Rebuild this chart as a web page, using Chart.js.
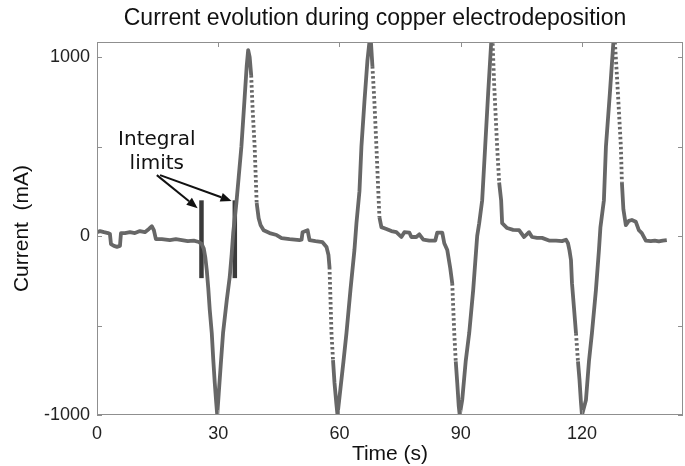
<!DOCTYPE html>
<html>
<head>
<meta charset="utf-8">
<script src="https://cdn.jsdelivr.net/npm/chart.js@4.4.1/dist/chart.umd.min.js"></script>
<style>
  html, body { margin: 0; padding: 0; background: #fff; }
</style>
</head>
<body>
<canvas id="chart-current" width="685" height="466"></canvas>
<script>
// Current evolution during copper electrodeposition
var timeS = [
  0.00, 0.74, 1.73, 2.72, 3.20, 3.46, 4.20, 4.94, 5.68, 5.93, 6.91, 8.15, 9.38, 10.62, 11.85,
  12.84, 13.58, 14.07, 14.57, 16.05, 18.02, 19.51, 20.99, 22.47, 23.95, 25.19, 25.93, 26.42,
  26.79, 27.16, 27.53, 27.90, 28.40, 28.77, 29.14, 29.46, 29.75,
  30.12, 30.62, 31.19, 32.10, 32.84, 33.33, 33.70, 34.49, 35.06, 35.73, 36.54, 37.04, 37.41,
  37.78, 38.15, 38.52, 39.01, 39.51, 40.00, 40.49, 41.23, 42.72, 44.44, 45.68, 47.65, 50.12,
  50.62, 50.86, 52.10, 52.59, 54.07, 55.80, 56.79, 57.28, 57.53, 57.78, 58.02, 58.40, 58.77,
  59.26, 59.51,
  60.25, 60.99, 61.73, 62.72, 63.70, 64.20, 64.94, 65.43, 66.17, 66.91, 67.41,
  67.78, 68.15, 68.64, 69.14, 69.51, 69.88, 70.37, 71.60, 72.84, 74.07, 75.31, 76.05, 77.28,
  77.78, 79.01, 79.75, 80.74, 82.22, 83.70, 84.20, 85.43, 85.93, 86.67, 87.41, 87.90, 88.40,
  88.77, 89.14, 89.51, 89.75,
  90.37, 91.23, 92.10, 93.09, 94.07, 94.57, 95.31, 96.05, 96.79, 97.53,
  97.90, 98.27, 99.01, 99.51, 100.00, 100.25, 101.48, 102.96, 104.44, 105.68, 106.91, 107.65,
  108.89, 110.12, 111.85, 113.58, 115.06, 116.05, 116.54, 116.91, 117.28, 117.53, 118.02,
  118.52, 119.01, 119.38, 119.75, 120.00,
  120.99, 121.73, 122.47, 123.46, 124.20, 124.57, 125.43, 125.93, 126.91, 127.78,
  128.15, 128.64, 129.14, 129.63, 129.88, 130.25, 130.86, 131.60, 132.35, 133.33, 134.07,
  134.81, 135.80, 137.04, 138.02, 139.01, 140.00, 140.99
];
var currentMA = [
  22, 28, 22, 17, 12, -45, -55, -60, -55, 17, 17, 22, 17, 28, 22,
  40, 55, 33, -17, -17, -22, -17, -22, -28, -25, -33, -45, -70,
  -117, -190, -290, -413, -542, -690, -821, -920, -1000,
  -880, -720, -542, -360, -229, -100, 17, 185, 330, 500, 777, 950, 1040,
  1000, 900, 704, 500, 185, 100, 61, 33, 17, 6, -11, -17, -22,
  -20, 22, 33, -22, -28, -34, -61, -106, -173, -358, -542, -693, -821,
  -944, -1000,
  -850, -700, -542, -300, -78, 72, 250, 500, 750, 980, 1085,
  1085, 950, 750, 500, 300, 106, 50, 40, 28, 22, -5, 22, 20,
  -5, -5, 10, -20, -25, -25, 20, 20, -40, -78, -180, -263, -542,
  -700, -821, -950, -1000,
  -916, -700, -542, -300, 0, 72, 201, 500, 800, 1078,
  1078, 850, 500, 300, 200, 72, 45, 35, 33, -5, 22, -5,
  -10, -10, -25, -25, -28, -20, -40, -80, -134, -263, -400,
  -542, -700, -800, -930, -1000,
  -916, -700, -542, -300, -78, 50, 201, 500, 800, 1085,
  1085, 900, 700, 500, 300, 150, 61, 85, 90, 80, 33,
  17, -25, -28, -25, -30, -25, -22
];

var xTicks = [0, 30, 60, 90, 120];
var yTicks = [-1000, -500, 0, 500, 1000];
var yLabelled = [-1000, 0, 1000];

// the two "Integral limits" markers
var limitTimes = [25.85, 34.1];
var limitRange = [-235, 200];

var traceColor = '#676767';
var frameColor = '#8f8f8f';
var fontFamily = '"Liberation Sans", Arial, Helvetica, sans-serif';

var tracePoints = timeS.map(function(t, i) { return { x: t, y: currentMA[i] }; });

function limitDataset(t) {
  return {
    data: [{ x: t, y: limitRange[0] }, { x: t, y: limitRange[1] }],
    showLine: true,
    borderColor: '#3a3a3a',
    borderWidth: 4.5,
    borderCapStyle: 'butt',
    pointRadius: 0
  };
}

// box around the plot with matlab-like inward ticks
var framePlugin = {
  id: 'frame',
  afterDraw: function(chart) {
    var ctx = chart.ctx, a = chart.chartArea;
    var xs = chart.scales.x, ys = chart.scales.y;
    ctx.save();
    ctx.strokeStyle = frameColor;
    ctx.lineWidth = 1;
    ctx.strokeRect(a.left + 0.5, a.top + 0.5, a.right - a.left - 1, a.bottom - a.top - 1);
    ctx.beginPath();
    xTicks.forEach(function(v) {
      var px = Math.round(xs.getPixelForValue(v)) + 0.5;
      ctx.moveTo(px, a.bottom); ctx.lineTo(px, a.bottom - 5);
      ctx.moveTo(px, a.top); ctx.lineTo(px, a.top + 5);
    });
    yTicks.forEach(function(v) {
      var py = Math.round(ys.getPixelForValue(v)) + 0.5;
      ctx.moveTo(a.left, py); ctx.lineTo(a.left + 5, py);
      ctx.moveTo(a.right, py); ctx.lineTo(a.right - 5, py);
    });
    ctx.stroke();

    ctx.fillStyle = '#111';
    ctx.font = '23px ' + fontFamily;
    ctx.textAlign = 'center';
    ctx.textBaseline = 'alphabetic';
    ctx.fillText('Current evolution during copper electrodeposition', 375, 25);
    ctx.restore();
  }
};

function drawArrow(ctx, x1, y1, x2, y2) {
  var ang = Math.atan2(y2 - y1, x2 - x1);
  var len = 11, half = 4.5;
  var bx = x2 - len * Math.cos(ang), by = y2 - len * Math.sin(ang);
  ctx.beginPath();
  ctx.moveTo(x1, y1);
  ctx.lineTo(bx, by);
  ctx.stroke();
  ctx.beginPath();
  ctx.moveTo(x2, y2);
  ctx.lineTo(bx + half * Math.sin(ang), by - half * Math.cos(ang));
  ctx.lineTo(bx - half * Math.sin(ang), by + half * Math.cos(ang));
  ctx.closePath();
  ctx.fill();
}

var labelPlugin = {
  id: 'integralLabel',
  afterDatasetsDraw: function(chart) {
    var ctx = chart.ctx, xs = chart.scales.x, ys = chart.scales.y;
    function X(v) { return xs.getPixelForValue(v); }
    function Y(v) { return ys.getPixelForValue(v); }
    ctx.save();
    ctx.fillStyle = '#111';
    ctx.strokeStyle = '#111';
    ctx.lineWidth = 2;
    ctx.font = '20px "DejaVu Sans", sans-serif';
    ctx.textAlign = 'center';
    ctx.textBaseline = 'alphabetic';
    ctx.fillText('Integral', X(14.8), Y(508));
    ctx.fillText('limits', X(14.8), Y(374));
    drawArrow(ctx, X(14.8), Y(341), X(24.9), Y(156));
    drawArrow(ctx, X(15.6), Y(341), X(33.3), Y(196));
    ctx.restore();
  }
};

new Chart(document.getElementById('chart-current').getContext('2d'), {
  type: 'scatter',
  data: {
    datasets: [
      {
        data: tracePoints,
        showLine: true,
        borderColor: traceColor,
        borderWidth: 3.8,
        borderCapStyle: 'butt',
        borderJoinStyle: 'round',
        pointRadius: 0,
        segment: {
          // steep falling parts look dotted in the original
          borderDash: function(c) { return c.p1.parsed.y < c.p0.parsed.y - 150 ? [2.5, 2.5] : undefined; }
        }
      },
      limitDataset(limitTimes[0]),
      limitDataset(limitTimes[1])
    ]
  },
  options: {
    responsive: false,
    animation: false,
    layout: { padding: { top: 42, right: 2, left: 0, bottom: 0 } },
    plugins: { legend: { display: false }, tooltip: { enabled: false }, title: { display: false } },
    scales: {
      x: {
        type: 'linear',
        min: 0,
        max: 145,
        afterFit: function(s) { s.height = 51; },
        afterBuildTicks: function(s) { s.ticks = xTicks.map(function(v) { return { value: v }; }); },
        grid: { display: false, drawTicks: false },
        border: { display: false },
        ticks: {
          padding: 8, color: '#222', maxRotation: 0, autoSkip: false,
          font: { family: fontFamily, size: 18 },
          callback: function(v) { return String(v); }
        },
        title: {
          display: true, text: 'Time (s)', color: '#111', padding: 0,
          font: { family: fontFamily, size: 21, lineHeight: 1.1 }
        }
      },
      y: {
        type: 'linear',
        min: -1000,
        max: 1085,
        afterFit: function(s) { s.width = 97; },
        afterBuildTicks: function(s) { s.ticks = yTicks.map(function(v) { return { value: v }; }); },
        grid: { display: false, drawTicks: false },
        border: { display: false },
        ticks: {
          padding: 7, color: '#222', autoSkip: false,
          font: { family: fontFamily, size: 18 },
          callback: function(v) { return yLabelled.indexOf(v) >= 0 ? String(v) : ''; }
        },
        title: {
          display: true, text: 'Current  (mA)', color: '#111', padding: { top: 10 },
          font: { family: fontFamily, size: 21 }
        }
      }
    }
  },
  plugins: [framePlugin, labelPlugin]
});
</script>
</body>
</html>
